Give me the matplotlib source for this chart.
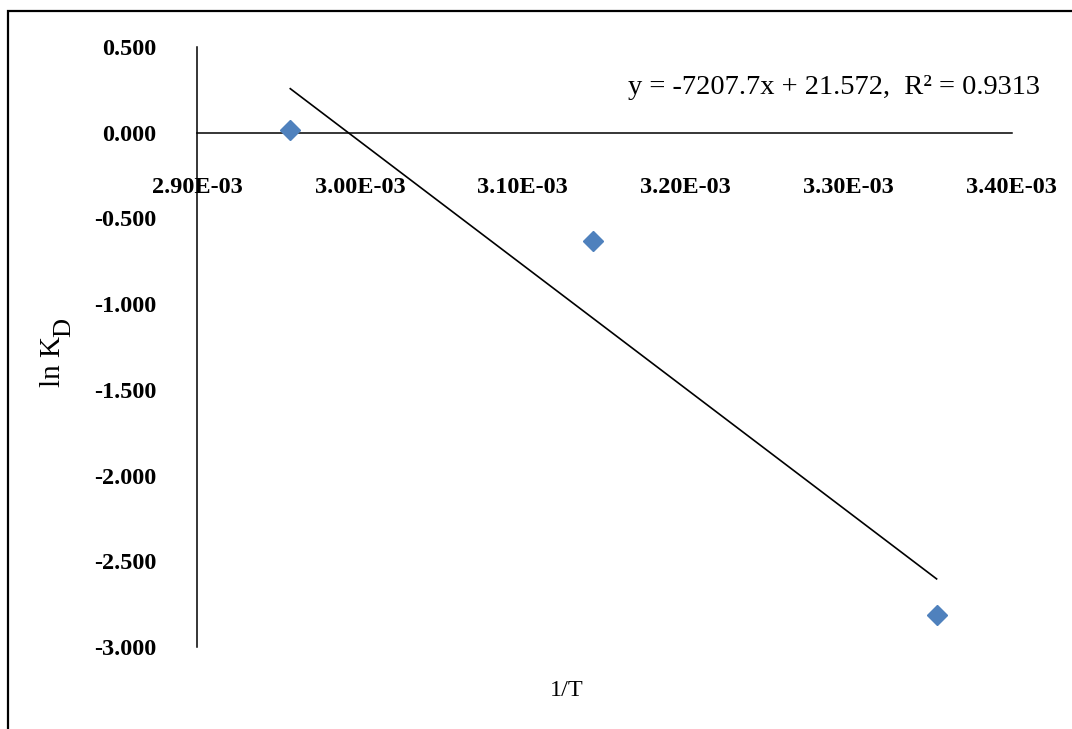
import numpy as np
import matplotlib
matplotlib.use("Agg")
import matplotlib.pyplot as plt
from matplotlib.patches import Rectangle
from matplotlib.ticker import FuncFormatter

# dati: 1/T e ln KD
inv_T = [1 / 338.15, 1 / 318.15, 1 / 298.15]
ln_KD = [0.016, -0.630, -2.814]

# retta di regressione (da Excel)
slope = -7207.7
intercept = 21.572
r2 = 0.9313

x_ticks = [2.9e-3, 3.0e-3, 3.1e-3, 3.2e-3, 3.3e-3, 3.4e-3]
y_ticks = [0.5, 0.0, -0.5, -1.0, -1.5, -2.0, -2.5, -3.0]

plt.rcParams['font.family'] = ['Liberation Serif', 'DejaVu Serif']

W, H = 1072, 729
fig = plt.figure(figsize=(W / 100, H / 100), dpi=100)

# cornice esterna (solo lati sinistro e superiore visibili)
fig.patches.append(Rectangle((8 / W, -0.5), 2.0, 1.5 - 11 / H, transform=fig.transFigure,
                             fill=False, edgecolor='black', linewidth=1.6))

x0, x1 = 197, 1011.5
y0, y1 = 47, 647
ax = fig.add_axes([x0 / W, 1 - y1 / H, (x1 - x0) / W, (y1 - y0) / H])

ax.set_xlim(x_ticks[0], x_ticks[-1])
ax.set_ylim(y_ticks[-1], y_ticks[0])

ax.spines['top'].set_visible(False)
ax.spines['right'].set_visible(False)
ax.spines['bottom'].set_position(('data', 0))
for s in ['left', 'bottom']:
    ax.spines[s].set_linewidth(1.1)

ax.set_xticks(x_ticks)
ax.set_yticks(y_ticks)
ax.xaxis.set_major_formatter(FuncFormatter(lambda v, p: '{:.2E}'.format(v)))
ax.yaxis.set_major_formatter(FuncFormatter(lambda v, p: '{:.3f}'.format(v)))
ax.tick_params(axis='x', length=0, pad=32, labelsize=17.5)
ax.tick_params(axis='y', length=0, pad=29, labelsize=17.5)
for lab in ax.get_xticklabels() + ax.get_yticklabels():
    lab.set_fontweight('bold')

# linea di tendenza
xf = np.array([min(inv_T), max(inv_T)])
ax.plot(xf, slope * xf + intercept, color='black', linewidth=1.2, clip_on=False)

# punti sperimentali
ax.plot(inv_T, ln_KD, linestyle='none', marker='D', markersize=10.5,
        color='#4F81BD', clip_on=False, zorder=3)

fig.text(628 / W, 1 - 87 / H,
         'y = {}x + {},  R² = {}'.format(slope, intercept, r2),
         ha='left', va='center', fontsize=20.5)

fig.text(567 / W, 1 - 690 / H, '1/T', ha='center', va='center', fontsize=17.5)

# etichetta asse y con pedice D
fig.text(53 / W, 1 - 387 / H, 'ln K', ha='center', va='bottom',
         rotation=90, fontsize=21)
fig.text(64 / W, 1 - 337 / H, 'D', ha='center', va='bottom',
         rotation=90, fontsize=19)

fig.savefig('out.png', dpi=100)
